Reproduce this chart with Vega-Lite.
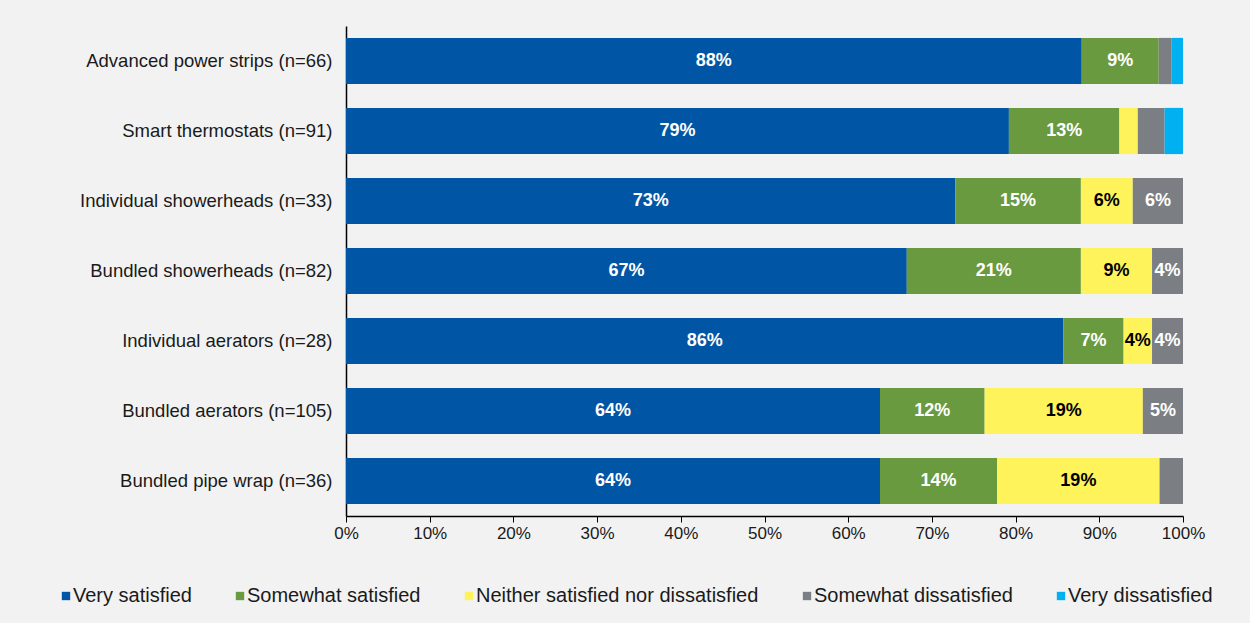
{
  "$schema": "https://vega.github.io/schema/vega-lite/v6.json",
  "width": 837,
  "height": 490,
  "autosize": {"type": "none"},
  "padding": {"left": 346, "top": 26, "right": 67, "bottom": 107},
  "background": "#f2f2f2",
  "config": {
    "view": {"stroke": null},
    "font": "Liberation Sans"
  },
  "data": {
    "values": [
      {"cat": "Advanced power strips (n=66)", "resp": "Very satisfied", "ord": 1, "value": 87.9, "label": "88%", "lc": "white"},
      {"cat": "Advanced power strips (n=66)", "resp": "Somewhat satisfied", "ord": 2, "value": 9.2, "label": "9%", "lc": "white"},
      {"cat": "Advanced power strips (n=66)", "resp": "Neither satisfied nor dissatisfied", "ord": 3, "value": 0, "label": "", "lc": "black"},
      {"cat": "Advanced power strips (n=66)", "resp": "Somewhat dissatisfied", "ord": 4, "value": 1.5, "label": "", "lc": "white"},
      {"cat": "Advanced power strips (n=66)", "resp": "Very dissatisfied", "ord": 5, "value": 1.4, "label": "", "lc": "white"},
      {"cat": "Smart thermostats (n=91)", "resp": "Very satisfied", "ord": 1, "value": 79.2, "label": "79%", "lc": "white"},
      {"cat": "Smart thermostats (n=91)", "resp": "Somewhat satisfied", "ord": 2, "value": 13.2, "label": "13%", "lc": "white"},
      {"cat": "Smart thermostats (n=91)", "resp": "Neither satisfied nor dissatisfied", "ord": 3, "value": 2.2, "label": "", "lc": "black"},
      {"cat": "Smart thermostats (n=91)", "resp": "Somewhat dissatisfied", "ord": 4, "value": 3.2, "label": "", "lc": "white"},
      {"cat": "Smart thermostats (n=91)", "resp": "Very dissatisfied", "ord": 5, "value": 2.2, "label": "", "lc": "white"},
      {"cat": "Individual showerheads (n=33)", "resp": "Very satisfied", "ord": 1, "value": 72.8, "label": "73%", "lc": "white"},
      {"cat": "Individual showerheads (n=33)", "resp": "Somewhat satisfied", "ord": 2, "value": 15.0, "label": "15%", "lc": "white"},
      {"cat": "Individual showerheads (n=33)", "resp": "Neither satisfied nor dissatisfied", "ord": 3, "value": 6.2, "label": "6%", "lc": "black"},
      {"cat": "Individual showerheads (n=33)", "resp": "Somewhat dissatisfied", "ord": 4, "value": 6.0, "label": "6%", "lc": "white"},
      {"cat": "Individual showerheads (n=33)", "resp": "Very dissatisfied", "ord": 5, "value": 0, "label": "", "lc": "white"},
      {"cat": "Bundled showerheads (n=82)", "resp": "Very satisfied", "ord": 1, "value": 67.0, "label": "67%", "lc": "white"},
      {"cat": "Bundled showerheads (n=82)", "resp": "Somewhat satisfied", "ord": 2, "value": 20.8, "label": "21%", "lc": "white"},
      {"cat": "Bundled showerheads (n=82)", "resp": "Neither satisfied nor dissatisfied", "ord": 3, "value": 8.5, "label": "9%", "lc": "black"},
      {"cat": "Bundled showerheads (n=82)", "resp": "Somewhat dissatisfied", "ord": 4, "value": 3.7, "label": "4%", "lc": "white"},
      {"cat": "Bundled showerheads (n=82)", "resp": "Very dissatisfied", "ord": 5, "value": 0, "label": "", "lc": "white"},
      {"cat": "Individual aerators (n=28)", "resp": "Very satisfied", "ord": 1, "value": 85.7, "label": "86%", "lc": "white"},
      {"cat": "Individual aerators (n=28)", "resp": "Somewhat satisfied", "ord": 2, "value": 7.2, "label": "7%", "lc": "white"},
      {"cat": "Individual aerators (n=28)", "resp": "Neither satisfied nor dissatisfied", "ord": 3, "value": 3.4, "label": "4%", "lc": "black"},
      {"cat": "Individual aerators (n=28)", "resp": "Somewhat dissatisfied", "ord": 4, "value": 3.7, "label": "4%", "lc": "white"},
      {"cat": "Individual aerators (n=28)", "resp": "Very dissatisfied", "ord": 5, "value": 0, "label": "", "lc": "white"},
      {"cat": "Bundled aerators (n=105)", "resp": "Very satisfied", "ord": 1, "value": 63.8, "label": "64%", "lc": "white"},
      {"cat": "Bundled aerators (n=105)", "resp": "Somewhat satisfied", "ord": 2, "value": 12.5, "label": "12%", "lc": "white"},
      {"cat": "Bundled aerators (n=105)", "resp": "Neither satisfied nor dissatisfied", "ord": 3, "value": 18.9, "label": "19%", "lc": "black"},
      {"cat": "Bundled aerators (n=105)", "resp": "Somewhat dissatisfied", "ord": 4, "value": 4.8, "label": "5%", "lc": "white"},
      {"cat": "Bundled aerators (n=105)", "resp": "Very dissatisfied", "ord": 5, "value": 0, "label": "", "lc": "white"},
      {"cat": "Bundled pipe wrap (n=36)", "resp": "Very satisfied", "ord": 1, "value": 63.8, "label": "64%", "lc": "white"},
      {"cat": "Bundled pipe wrap (n=36)", "resp": "Somewhat satisfied", "ord": 2, "value": 14.0, "label": "14%", "lc": "white"},
      {"cat": "Bundled pipe wrap (n=36)", "resp": "Neither satisfied nor dissatisfied", "ord": 3, "value": 19.4, "label": "19%", "lc": "black"},
      {"cat": "Bundled pipe wrap (n=36)", "resp": "Somewhat dissatisfied", "ord": 4, "value": 2.8, "label": "", "lc": "white"},
      {"cat": "Bundled pipe wrap (n=36)", "resp": "Very dissatisfied", "ord": 5, "value": 0, "label": "", "lc": "white"}
    ]
  },
  "transform": [
    {"stack": "value", "groupby": ["cat"], "sort": [{"field": "ord"}], "as": ["v0", "v1"]},
    {"calculate": "(datum.v0 + datum.v1) / 2", "as": "mid"}
  ],
  "encoding": {
    "y": {
      "field": "cat",
      "type": "nominal",
      "sort": ["Advanced power strips (n=66)", "Smart thermostats (n=91)", "Individual showerheads (n=33)", "Bundled showerheads (n=82)", "Individual aerators (n=28)", "Bundled aerators (n=105)", "Bundled pipe wrap (n=36)"],
      "scale": {"paddingInner": 0.34, "paddingOuter": 0.17},
      "axis": {
        "title": null,
        "ticks": false,
        "domainColor": "#000000",
        "domainWidth": 1.5,
        "labelFontSize": 18.5,
        "labelColor": "#1a1a1a",
        "labelPadding": 14,
        "labelLimit": 400
      }
    }
  },
  "layer": [
    {
      "mark": {"type": "bar"},
      "encoding": {
        "x": {
          "field": "v0",
          "type": "quantitative",
          "scale": {"domain": [0, 100], "nice": false},
          "axis": {
            "title": null,
            "values": [0, 10, 20, 30, 40, 50, 60, 70, 80, 90, 100],
            "labelExpr": "datum.value + '%'",
            "labelFlush": false,
            "grid": false,
            "domainColor": "#000000",
            "domainWidth": 1.5,
            "tickColor": "#000000",
            "tickSize": 6,
            "labelFontSize": 17,
            "labelColor": "#1a1a1a",
            "labelPadding": 3
          }
        },
        "x2": {"field": "v1"},
        "color": {
          "field": "resp",
          "type": "nominal",
          "scale": {
            "domain": ["Very satisfied", "Somewhat satisfied", "Neither satisfied nor dissatisfied", "Somewhat dissatisfied", "Very dissatisfied"],
            "range": ["#0055a5", "#6a9a3f", "#fff35c", "#7b7f83", "#00b0f0"]
          },
          "legend": {
            "title": null,
            "orient": "none",
            "direction": "horizontal",
            "legendX": -290,
            "legendY": 560,
            "symbolType": "square",
            "symbolSize": 70,
            "symbolStrokeWidth": 0,
            "labelFontSize": 20,
            "labelColor": "#1a1a1a",
            "labelOffset": -3,
            "columnPadding": 38,
            "labelLimit": 400
          }
        }
      }
    },
    {
      "mark": {"type": "text", "fontWeight": "bold", "fontSize": 18, "baseline": "middle", "align": "center"},
      "encoding": {
        "x": {"field": "mid", "type": "quantitative"},
        "text": {"field": "label"},
        "color": {"field": "lc", "type": "nominal", "scale": null}
      }
    }
  ]
}
